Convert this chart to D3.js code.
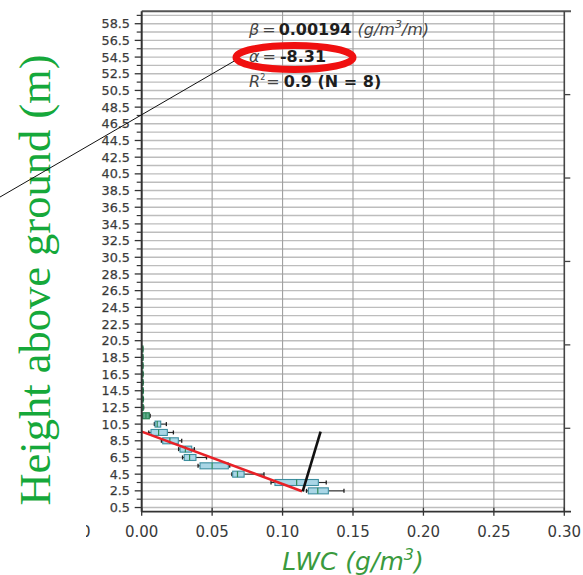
<!DOCTYPE html>
<html>
<head>
<meta charset="utf-8">
<script src="https://cdn.jsdelivr.net/npm/d3@7"></script>
<style>
  html, body { margin: 0; padding: 0; background: #fff; }
  svg { display: block; }
</style>
</head>
<body>
<svg id="chart" width="583" height="575"></svg>
<script>
// Liquid water content profile: one box per 1 m height bin (g/m^3)
const heights   = [2.5, 3.5, 4.5, 5.5, 6.5, 7.5, 8.5, 9.5, 10.5, 11.5, 12.5, 13.5, 14.5, 15.5, 16.5, 17.5, 18.5, 19.5];
const whiskerLo = [0.1170, 0.0918, 0.0640, 0.0400, 0.0290, 0.0262, 0.0140, 0.0050, 0.0090, 0.0005, 0.0, 0.0, 0.0, 0.0, 0.0, 0.0, 0.0, 0.0];
const q1        = [0.1183, 0.0946, 0.0646, 0.0414, 0.0302, 0.0272, 0.0149, 0.0066, 0.0095, 0.0007, 0.0002, 0.0002, 0.0002, 0.0001, 0.0001, 0.0001, 0.0001, 0.0001];
const medians   = [0.1250, 0.1100, 0.0680, 0.0500, 0.0340, 0.0310, 0.0200, 0.0120, 0.0110, 0.0030, 0.0006, 0.0005, 0.0005, 0.0004, 0.0004, 0.0003, 0.0003, 0.0003];
const q3        = [0.1325, 0.1254, 0.0727, 0.0615, 0.0385, 0.0355, 0.0260, 0.0182, 0.0135, 0.0054, 0.0010, 0.0009, 0.0008, 0.0007, 0.0007, 0.0006, 0.0006, 0.0005];
const whiskerHi = [0.1436, 0.1310, 0.0868, 0.0625, 0.0460, 0.0374, 0.0284, 0.0225, 0.0175, 0.0060, 0.0014, 0.0012, 0.0011, 0.0010, 0.0009, 0.0008, 0.0008, 0.0007];

// Tick labels
const yTickLabels = d3.range(0.5, 59, 2);          // 0.5, 2.5, ... 58.5
const yMinorTicks = d3.range(1.5, 60, 2);          // unlabeled bins
const xTickValues = [0, 0.05, 0.10, 0.15, 0.20, 0.25, 0.30];
const rightTicks  = [10, 20, 30, 40, 50];

// Fitted line (LWC, height) and the drawn pointer line
const fitLWC    = [0.0, 0.1138];
const fitHeight = [9.6, 2.45];
const ptrLWC    = [0.1143, 0.1270];
const ptrHeight = [2.45, 9.6];

// Regression summary
const betaText  = "0.00194";
const alphaText = "-8.31";
const r2Text    = "0.9 (N = 8)";

const svg = d3.select("#chart");
const plotL = 141.7, plotR = 564.3, plotT = 11.2, plotB = 511.7;

const x = d3.scaleLinear().domain([0, 0.30]).range([plotL, plotR]);
const y = d3.scaleLinear().domain([0, 60]).range([plotB, plotT]);

// Horizontal grid at every bin centre
svg.append("g").selectAll("line")
  .data(d3.range(0.5, 60, 1))
  .join("line")
  .attr("x1", plotL).attr("x2", plotR)
  .attr("y1", d => y(d)).attr("y2", d => y(d))
  .attr("stroke", "#bdbdbd").attr("stroke-width", 1.4);

// Vertical grid
svg.append("g").selectAll("line")
  .data(xTickValues.slice(1, -1))
  .join("line")
  .attr("x1", d => x(d)).attr("x2", d => x(d))
  .attr("y1", plotT).attr("y2", plotB)
  .attr("stroke", "#a0a0a0").attr("stroke-width", 1.1);

// Box plots
const boxHalf = 3;
const boxes = svg.append("g");
heights.forEach((h, i) => {
  const cy = y(h);
  const g = boxes.append("g");
  g.append("line")
    .attr("x1", x(whiskerLo[i])).attr("x2", x(q1[i]))
    .attr("y1", cy).attr("y2", cy)
    .attr("stroke", "#2a2a2a").attr("stroke-width", 1);
  g.append("line")
    .attr("x1", x(q3[i])).attr("x2", x(whiskerHi[i]))
    .attr("y1", cy).attr("y2", cy)
    .attr("stroke", "#2a2a2a").attr("stroke-width", 1);
  [whiskerLo[i], whiskerHi[i]].forEach(v => {
    g.append("line")
      .attr("x1", x(v)).attr("x2", x(v))
      .attr("y1", cy - 2).attr("y2", cy + 2)
      .attr("stroke", "#1f1f1f").attr("stroke-width", 1.3);
  });
  g.append("rect")
    .attr("x", x(q1[i])).attr("y", cy - boxHalf)
    .attr("width", Math.max(1.2, x(q3[i]) - x(q1[i])))
    .attr("height", boxHalf * 2)
    .attr("fill", h >= 11 ? "#5fae8e" : "#a9d6e6")
    .attr("stroke", h >= 11 ? "#1f7a4c" : "#3d8ea0")
    .attr("stroke-width", 1.1);
  g.append("line")
    .attr("x1", x(medians[i])).attr("x2", x(medians[i]))
    .attr("y1", cy - boxHalf).attr("y2", cy + boxHalf)
    .attr("stroke", "#2e8b57").attr("stroke-width", 1.2);
});

// Fitted line
svg.append("line")
  .attr("x1", x(fitLWC[0])).attr("y1", y(fitHeight[0]))
  .attr("x2", x(fitLWC[1])).attr("y2", y(fitHeight[1]))
  .attr("stroke", "#e82127").attr("stroke-width", 2.6);

// Pointer line
svg.append("line")
  .attr("x1", x(ptrLWC[0])).attr("y1", y(ptrHeight[0]))
  .attr("x2", x(ptrLWC[1])).attr("y2", y(ptrHeight[1]))
  .attr("stroke", "#111").attr("stroke-width", 2.6);

// Spines
svg.append("line").attr("x1", plotL).attr("x2", 571).attr("y1", plotT).attr("y2", plotT)
  .attr("stroke", "#555").attr("stroke-width", 2);
svg.append("line").attr("x1", plotL).attr("x2", 571).attr("y1", plotB).attr("y2", plotB)
  .attr("stroke", "#333").attr("stroke-width", 1.8);
svg.append("line").attr("x1", plotL).attr("x2", plotL).attr("y1", plotT).attr("y2", plotB)
  .attr("stroke", "#333").attr("stroke-width", 2);
svg.append("line").attr("x1", plotR).attr("x2", plotR).attr("y1", plotT).attr("y2", plotB)
  .attr("stroke", "#444").attr("stroke-width", 1.6);

// Right ticks
svg.append("g").selectAll("line").data(rightTicks).join("line")
  .attr("x1", plotR).attr("x2", plotR + 6)
  .attr("y1", d => y(d)).attr("y2", d => y(d))
  .attr("stroke", "#444").attr("stroke-width", 1.3);

// Left axis
const yAxis = svg.append("g");
yAxis.selectAll("line.minor").data(yMinorTicks).join("line")
  .attr("class", "minor")
  .attr("x1", plotL - 5).attr("x2", plotL)
  .attr("y1", d => y(d)).attr("y2", d => y(d))
  .attr("stroke", "#333").attr("stroke-width", 1.2);
yAxis.selectAll("line.major").data(yTickLabels).join("line")
  .attr("class", "major")
  .attr("x1", plotL - 7).attr("x2", plotL)
  .attr("y1", d => y(d)).attr("y2", d => y(d))
  .attr("stroke", "#333").attr("stroke-width", 1.3);
yAxis.selectAll("text").data(yTickLabels).join("text")
  .attr("x", 130).attr("y", d => y(d))
  .attr("dy", "0.36em")
  .attr("text-anchor", "end")
  .attr("font-family", "DejaVu Sans")
  .attr("font-size", 12.8)
  .attr("fill", "#333")
  .attr("stroke", "#555").attr("stroke-width", 0.25)
  .text(d => d.toFixed(1));

// Bottom axis
const xAxis = svg.append("g");
xAxis.selectAll("line").data(xTickValues).join("line")
  .attr("x1", d => x(d)).attr("x2", d => x(d))
  .attr("y1", plotB - 4).attr("y2", plotB + 4)
  .attr("stroke", "#333").attr("stroke-width", 1.3);
xAxis.selectAll("text").data(xTickValues).join("text")
  .attr("x", d => x(d)).attr("y", 537)
  .attr("text-anchor", "middle")
  .attr("font-family", "DejaVu Sans")
  .attr("font-size", 15)
  .attr("fill", "#3a3a3a")
  .text(d => d.toFixed(2));

// Cut-off glyph of a neighbouring panel label
svg.append("clipPath").attr("id", "edgeclip")
  .append("rect").attr("x", 86).attr("y", 515).attr("width", 6).attr("height", 30);
svg.append("text")
  .attr("x", 81).attr("y", 537)
  .attr("font-family", "DejaVu Sans").attr("font-size", 15)
  .attr("fill", "#333").attr("clip-path", "url(#edgeclip)")
  .text("0");

// Axis titles
const xt = svg.append("text")
  .attr("x", 353).attr("y", 570)
  .attr("text-anchor", "middle")
  .attr("font-family", "DejaVu Sans")
  .attr("font-style", "italic")
  .attr("font-size", 25)
  .attr("fill", "#3a9a3e");
xt.append("tspan").text("LWC (g/m");
xt.append("tspan").attr("font-size", 16).attr("dy", -10).text("3");
xt.append("tspan").attr("dy", 10).text(")");

svg.append("text")
  .attr("transform", "translate(50,280) rotate(-90)")
  .attr("text-anchor", "middle")
  .attr("font-family", "Liberation Serif")
  .attr("font-size", 44.5)
  .attr("fill", "#15a83a")
  .text("Height above ground (m)");

// Regression annotation
const ann = svg.append("g").attr("font-family", "DejaVu Sans").attr("font-size", 16);
const l1 = ann.append("text").attr("x", 249).attr("y", 35).attr("fill", "#444");
l1.append("tspan").attr("font-style", "italic").text("β");
l1.append("tspan").attr("dx", 3).text("=");
l1.append("tspan").attr("dx", 3).attr("font-weight", "bold").attr("fill", "#1e1e1e").text(betaText);
l1.append("tspan").attr("font-style", "italic").attr("dx", 6).text("(g/m");
l1.append("tspan").attr("font-style", "italic").attr("font-size", 11).attr("dy", -7).text("3");
l1.append("tspan").attr("font-style", "italic").attr("dy", 7).text("/m)");

const l2 = ann.append("text").attr("x", 249).attr("y", 61.5).attr("fill", "#444");
l2.append("tspan").attr("font-style", "italic").text("α");
l2.append("tspan").attr("dx", 3).text("=");
l2.append("tspan").attr("dx", 4).attr("font-weight", "bold").attr("fill", "#1e1e1e").text(alphaText);

const l3 = ann.append("text").attr("x", 249).attr("y", 87).attr("fill", "#444");
l3.append("tspan").attr("font-style", "italic").text("R");
l3.append("tspan").attr("font-size", 8).attr("dy", -7).text("2");
l3.append("tspan").attr("dy", 7).attr("dx", 1).text("=");
l3.append("tspan").attr("font-weight", "bold").attr("fill", "#1e1e1e").attr("dx", 4).text(r2Text);

// Highlight ring and leader line
svg.append("line")
  .attr("x1", 0).attr("y1", 197)
  .attr("x2", 236).attr("y2", 60)
  .attr("stroke", "#111").attr("stroke-width", 1);
svg.append("ellipse")
  .attr("cx", 294.5).attr("cy", 57.5)
  .attr("rx", 58.5).attr("ry", 12)
  .attr("fill", "none")
  .attr("stroke", "#f01010").attr("stroke-width", 7);
</script>
</body>
</html>
